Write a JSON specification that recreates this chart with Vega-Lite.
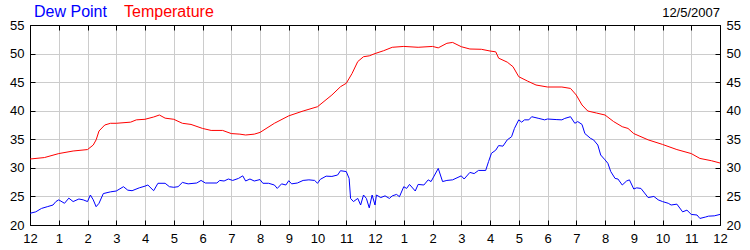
{
"$schema": "https://vega.github.io/schema/vega-lite/v6.json",
"width": 690, "height": 200,
"autosize": "none",
"padding": {"left": 30, "top": 25, "right": 30, "bottom": 25},
"background": "white",
"title": {"text": "12/5/2007", "anchor": "end", "frame": "group", "fontSize": 13, "font": "Liberation Sans", "fontWeight": "normal", "color": "black", "offset": 7, "dy": 23},
"config": {
  "view": {"stroke": null},
  "axis": {"labelFont": "Liberation Sans", "labelFontSize": 13, "labelColor": "black", "domainColor": "black", "tickColor": "black", "gridColor": "#cccccc", "domainWidth": 1, "tickWidth": 1, "gridWidth": 1, "title": null}
},
"datasets": {
  "wx": [
    {"t":0,"s":"Temperature","v":31.55},{"t":0.5,"s":"Temperature","v":31.8},{"t":1,"s":"Temperature","v":32.5},{"t":1.5,"s":"Temperature","v":32.95},{"t":2,"s":"Temperature","v":33.2},{"t":2.2,"s":"Temperature","v":34.0},{"t":2.3,"s":"Temperature","v":34.9},{"t":2.4,"s":"Temperature","v":36.45},{"t":2.6,"s":"Temperature","v":37.5},{"t":2.8,"s":"Temperature","v":37.8},{"t":3,"s":"Temperature","v":37.8},{"t":3.5,"s":"Temperature","v":38.0},{"t":3.7,"s":"Temperature","v":38.4},{"t":4,"s":"Temperature","v":38.5},{"t":4.3,"s":"Temperature","v":38.9},{"t":4.5,"s":"Temperature","v":39.25},{"t":4.7,"s":"Temperature","v":38.7},{"t":5,"s":"Temperature","v":38.5},{"t":5.3,"s":"Temperature","v":37.8},{"t":5.6,"s":"Temperature","v":37.6},{"t":6,"s":"Temperature","v":36.9},{"t":6.3,"s":"Temperature","v":36.55},{"t":6.7,"s":"Temperature","v":36.55},{"t":7,"s":"Temperature","v":36.0},{"t":7.3,"s":"Temperature","v":35.9},{"t":7.5,"s":"Temperature","v":35.75},{"t":7.8,"s":"Temperature","v":35.9},{"t":8,"s":"Temperature","v":36.2},{"t":8.5,"s":"Temperature","v":37.8},{"t":9,"s":"Temperature","v":39.1},{"t":9.5,"s":"Temperature","v":39.95},{"t":10,"s":"Temperature","v":40.7},{"t":10.5,"s":"Temperature","v":42.75},{"t":10.8,"s":"Temperature","v":44.2},{"t":11,"s":"Temperature","v":44.8},{"t":11.2,"s":"Temperature","v":46.5},{"t":11.4,"s":"Temperature","v":48.6},{"t":11.6,"s":"Temperature","v":49.45},{"t":11.8,"s":"Temperature","v":49.6},{"t":12,"s":"Temperature","v":50.0},{"t":12.3,"s":"Temperature","v":50.5},{"t":12.6,"s":"Temperature","v":51.1},{"t":13,"s":"Temperature","v":51.25},{"t":13.5,"s":"Temperature","v":51.1},{"t":14,"s":"Temperature","v":51.25},{"t":14.2,"s":"Temperature","v":51.0},{"t":14.5,"s":"Temperature","v":51.8},{"t":14.7,"s":"Temperature","v":51.95},{"t":15,"s":"Temperature","v":51.2},{"t":15.3,"s":"Temperature","v":50.8},{"t":15.7,"s":"Temperature","v":50.75},{"t":16,"s":"Temperature","v":50.45},{"t":16.2,"s":"Temperature","v":50.3},{"t":16.3,"s":"Temperature","v":49.2},{"t":16.6,"s":"Temperature","v":48.5},{"t":16.8,"s":"Temperature","v":47.7},{"t":17,"s":"Temperature","v":45.95},{"t":17.3,"s":"Temperature","v":45.2},{"t":17.6,"s":"Temperature","v":44.5},{"t":18,"s":"Temperature","v":44.15},{"t":18.5,"s":"Temperature","v":44.15},{"t":18.8,"s":"Temperature","v":43.9},{"t":19,"s":"Temperature","v":42.75},{"t":19.2,"s":"Temperature","v":41.0},{"t":19.4,"s":"Temperature","v":39.95},{"t":19.7,"s":"Temperature","v":39.6},{"t":20,"s":"Temperature","v":39.25},{"t":20.3,"s":"Temperature","v":38.1},{"t":20.6,"s":"Temperature","v":37.2},{"t":20.8,"s":"Temperature","v":36.9},{"t":21,"s":"Temperature","v":36.0},{"t":21.5,"s":"Temperature","v":34.9},{"t":22,"s":"Temperature","v":34.1},{"t":22.5,"s":"Temperature","v":33.2},{"t":23,"s":"Temperature","v":32.5},{"t":23.3,"s":"Temperature","v":31.65},{"t":23.7,"s":"Temperature","v":31.25},{"t":24,"s":"Temperature","v":30.85},
    {"t":0,"s":"Dew Point","v":22.05},{"t":0.2,"s":"Dew Point","v":22.3},{"t":0.4,"s":"Dew Point","v":22.9},{"t":0.6,"s":"Dew Point","v":23.2},{"t":0.8,"s":"Dew Point","v":23.5},{"t":0.9,"s":"Dew Point","v":24.1},{"t":1,"s":"Dew Point","v":24.4},{"t":1.2,"s":"Dew Point","v":23.8},{"t":1.35,"s":"Dew Point","v":24.7},{"t":1.5,"s":"Dew Point","v":24.1},{"t":1.7,"s":"Dew Point","v":24.55},{"t":1.85,"s":"Dew Point","v":24.4},{"t":2,"s":"Dew Point","v":24.1},{"t":2.1,"s":"Dew Point","v":25.25},{"t":2.2,"s":"Dew Point","v":24.4},{"t":2.3,"s":"Dew Point","v":23.2},{"t":2.4,"s":"Dew Point","v":23.8},{"t":2.55,"s":"Dew Point","v":25.5},{"t":2.8,"s":"Dew Point","v":25.8},{"t":3,"s":"Dew Point","v":25.95},{"t":3.25,"s":"Dew Point","v":26.7},{"t":3.4,"s":"Dew Point","v":26.1},{"t":3.55,"s":"Dew Point","v":26.0},{"t":3.8,"s":"Dew Point","v":26.5},{"t":4,"s":"Dew Point","v":26.8},{"t":4.1,"s":"Dew Point","v":27.0},{"t":4.3,"s":"Dew Point","v":26.0},{"t":4.45,"s":"Dew Point","v":27.3},{"t":4.7,"s":"Dew Point","v":27.3},{"t":4.85,"s":"Dew Point","v":26.7},{"t":5,"s":"Dew Point","v":26.6},{"t":5.15,"s":"Dew Point","v":26.7},{"t":5.3,"s":"Dew Point","v":27.45},{"t":5.5,"s":"Dew Point","v":27.2},{"t":5.8,"s":"Dew Point","v":27.35},{"t":5.95,"s":"Dew Point","v":27.8},{"t":6.1,"s":"Dew Point","v":27.35},{"t":6.5,"s":"Dew Point","v":27.35},{"t":6.6,"s":"Dew Point","v":27.8},{"t":6.75,"s":"Dew Point","v":27.7},{"t":6.9,"s":"Dew Point","v":28.05},{"t":7.05,"s":"Dew Point","v":27.8},{"t":7.25,"s":"Dew Point","v":28.15},{"t":7.4,"s":"Dew Point","v":28.6},{"t":7.5,"s":"Dew Point","v":27.7},{"t":7.65,"s":"Dew Point","v":28.05},{"t":7.8,"s":"Dew Point","v":27.7},{"t":8,"s":"Dew Point","v":27.95},{"t":8.1,"s":"Dew Point","v":27.3},{"t":8.3,"s":"Dew Point","v":27.3},{"t":8.5,"s":"Dew Point","v":27.0},{"t":8.6,"s":"Dew Point","v":26.4},{"t":8.75,"s":"Dew Point","v":27.2},{"t":8.9,"s":"Dew Point","v":27.0},{"t":9,"s":"Dew Point","v":27.75},{"t":9.1,"s":"Dew Point","v":27.2},{"t":9.3,"s":"Dew Point","v":27.35},{"t":9.5,"s":"Dew Point","v":27.8},{"t":9.7,"s":"Dew Point","v":27.9},{"t":9.9,"s":"Dew Point","v":27.8},{"t":10,"s":"Dew Point","v":27.3},{"t":10.1,"s":"Dew Point","v":28.0},{"t":10.3,"s":"Dew Point","v":28.55},{"t":10.5,"s":"Dew Point","v":28.5},{"t":10.7,"s":"Dew Point","v":28.75},{"t":10.8,"s":"Dew Point","v":29.5},{"t":11,"s":"Dew Point","v":29.35},{"t":11.1,"s":"Dew Point","v":28.15},{"t":11.15,"s":"Dew Point","v":24.65},{"t":11.25,"s":"Dew Point","v":24.1},{"t":11.4,"s":"Dew Point","v":24.65},{"t":11.5,"s":"Dew Point","v":23.5},{"t":11.6,"s":"Dew Point","v":25.25},{"t":11.7,"s":"Dew Point","v":24.65},{"t":11.8,"s":"Dew Point","v":23.0},{"t":11.9,"s":"Dew Point","v":25.25},{"t":12,"s":"Dew Point","v":23.5},{"t":12.05,"s":"Dew Point","v":25.25},{"t":12.2,"s":"Dew Point","v":24.8},{"t":12.35,"s":"Dew Point","v":25.1},{"t":12.5,"s":"Dew Point","v":24.65},{"t":12.6,"s":"Dew Point","v":25.1},{"t":12.75,"s":"Dew Point","v":25.35},{"t":12.85,"s":"Dew Point","v":24.95},{"t":13,"s":"Dew Point","v":26.7},{"t":13.1,"s":"Dew Point","v":26.4},{"t":13.2,"s":"Dew Point","v":27.1},{"t":13.4,"s":"Dew Point","v":25.95},{"t":13.5,"s":"Dew Point","v":27.1},{"t":13.7,"s":"Dew Point","v":27.0},{"t":13.85,"s":"Dew Point","v":27.9},{"t":13.95,"s":"Dew Point","v":27.6},{"t":14.2,"s":"Dew Point","v":29.9},{"t":14.35,"s":"Dew Point","v":27.6},{"t":14.5,"s":"Dew Point","v":27.8},{"t":14.7,"s":"Dew Point","v":27.9},{"t":15,"s":"Dew Point","v":28.6},{"t":15.1,"s":"Dew Point","v":28.05},{"t":15.3,"s":"Dew Point","v":29.2},{"t":15.45,"s":"Dew Point","v":29.0},{"t":15.6,"s":"Dew Point","v":29.55},{"t":15.85,"s":"Dew Point","v":29.55},{"t":15.95,"s":"Dew Point","v":31.1},{"t":16.05,"s":"Dew Point","v":32.55},{"t":16.2,"s":"Dew Point","v":33.1},{"t":16.3,"s":"Dew Point","v":33.9},{"t":16.45,"s":"Dew Point","v":33.8},{"t":16.6,"s":"Dew Point","v":34.9},{"t":16.75,"s":"Dew Point","v":35.45},{"t":16.85,"s":"Dew Point","v":36.9},{"t":17,"s":"Dew Point","v":38.4},{"t":17.1,"s":"Dew Point","v":38.0},{"t":17.2,"s":"Dew Point","v":38.4},{"t":17.35,"s":"Dew Point","v":38.4},{"t":17.45,"s":"Dew Point","v":38.95},{"t":17.7,"s":"Dew Point","v":38.65},{"t":17.9,"s":"Dew Point","v":38.4},{"t":18,"s":"Dew Point","v":38.55},{"t":18.3,"s":"Dew Point","v":38.45},{"t":18.5,"s":"Dew Point","v":38.4},{"t":18.6,"s":"Dew Point","v":38.65},{"t":18.8,"s":"Dew Point","v":38.95},{"t":18.95,"s":"Dew Point","v":37.8},{"t":19.05,"s":"Dew Point","v":38.1},{"t":19.2,"s":"Dew Point","v":37.6},{"t":19.3,"s":"Dew Point","v":36.0},{"t":19.5,"s":"Dew Point","v":35.15},{"t":19.6,"s":"Dew Point","v":34.9},{"t":19.75,"s":"Dew Point","v":34.0},{"t":19.85,"s":"Dew Point","v":32.25},{"t":20,"s":"Dew Point","v":31.4},{"t":20.1,"s":"Dew Point","v":30.8},{"t":20.2,"s":"Dew Point","v":29.35},{"t":20.35,"s":"Dew Point","v":28.15},{"t":20.45,"s":"Dew Point","v":28.05},{"t":20.6,"s":"Dew Point","v":27.0},{"t":20.75,"s":"Dew Point","v":27.7},{"t":20.85,"s":"Dew Point","v":27.9},{"t":21,"s":"Dew Point","v":26.3},{"t":21.1,"s":"Dew Point","v":26.5},{"t":21.25,"s":"Dew Point","v":26.4},{"t":21.5,"s":"Dew Point","v":24.8},{"t":21.7,"s":"Dew Point","v":25.0},{"t":21.85,"s":"Dew Point","v":24.4},{"t":22,"s":"Dew Point","v":24.1},{"t":22.2,"s":"Dew Point","v":23.8},{"t":22.3,"s":"Dew Point","v":23.5},{"t":22.5,"s":"Dew Point","v":23.65},{"t":22.7,"s":"Dew Point","v":22.3},{"t":22.85,"s":"Dew Point","v":22.6},{"t":23,"s":"Dew Point","v":21.85},{"t":23.2,"s":"Dew Point","v":21.75},{"t":23.3,"s":"Dew Point","v":21.15},{"t":23.5,"s":"Dew Point","v":21.4},{"t":23.6,"s":"Dew Point","v":21.55},{"t":23.8,"s":"Dew Point","v":21.6},{"t":24,"s":"Dew Point","v":21.85}
  ]
},
"data": {"name": "wx"},
"layer": [
  {
    "mark": {"type": "line", "strokeWidth": 1, "interpolate": "linear"},
    "encoding": {
      "x": {"field": "t", "type": "quantitative", "scale": {"domain": [0, 24], "nice": false, "zero": false},
        "axis": {"orient": "bottom", "values": [0,1,2,3,4,5,6,7,8,9,10,11,12,13,14,15,16,17,18,19,20,21,22,23,24], "labelExpr": "datum.value % 12 == 0 ? '12' : '' + (datum.value % 12)", "labelFlush": false, "labelAngle": 0, "tickSize": -5, "labelPadding": 12, "grid": true, "labelOverlap": false}},
      "y": {"field": "v", "type": "quantitative", "scale": {"domain": [20, 55], "nice": false, "zero": false},
        "axis": {"orient": "left", "values": [20,25,30,35,40,45,50,55], "tickSize": -5, "labelPadding": 11, "grid": true, "labelFlush": false, "labelOverlap": false}},
      "color": {"field": "s", "type": "nominal", "scale": {"domain": ["Dew Point", "Temperature"], "range": ["#0000ff", "#ff0000"]},
        "legend": {"orient": "none", "legendX": -12, "legendY": -21, "direction": "horizontal", "title": null, "padding": 0, "symbolSize": 0, "symbolOpacity": 0, "symbolStrokeWidth": 0, "labelOffset": 0, "columnPadding": 1, "labelFont": "Liberation Sans", "labelFontSize": 16, "labelColor": {"expr": "datum.label == 'Dew Point' ? '#0000ff' : '#ff0000'"}}}
    }
  },
  {
    "mark": {"type": "line", "opacity": 0},
    "encoding": {
      "x": {"field": "t", "type": "quantitative", "scale": {"domain": [0, 24], "nice": false, "zero": false},
        "axis": {"orient": "top", "values": [0,1,2,3,4,5,6,7,8,9,10,11,12,13,14,15,16,17,18,19,20,21,22,23,24], "labels": false, "tickSize": -5, "grid": false}},
      "y": {"field": "v", "type": "quantitative", "scale": {"domain": [20, 55], "nice": false, "zero": false},
        "axis": {"orient": "right", "values": [20,25,30,35,40,45,50,55], "tickSize": -5, "labelPadding": 11, "grid": false, "labelFlush": false, "labelOverlap": false}},
      "detail": {"field": "s"}
    }
  }
],
"resolve": {"scale": {"x": "independent", "y": "independent"}}
}
